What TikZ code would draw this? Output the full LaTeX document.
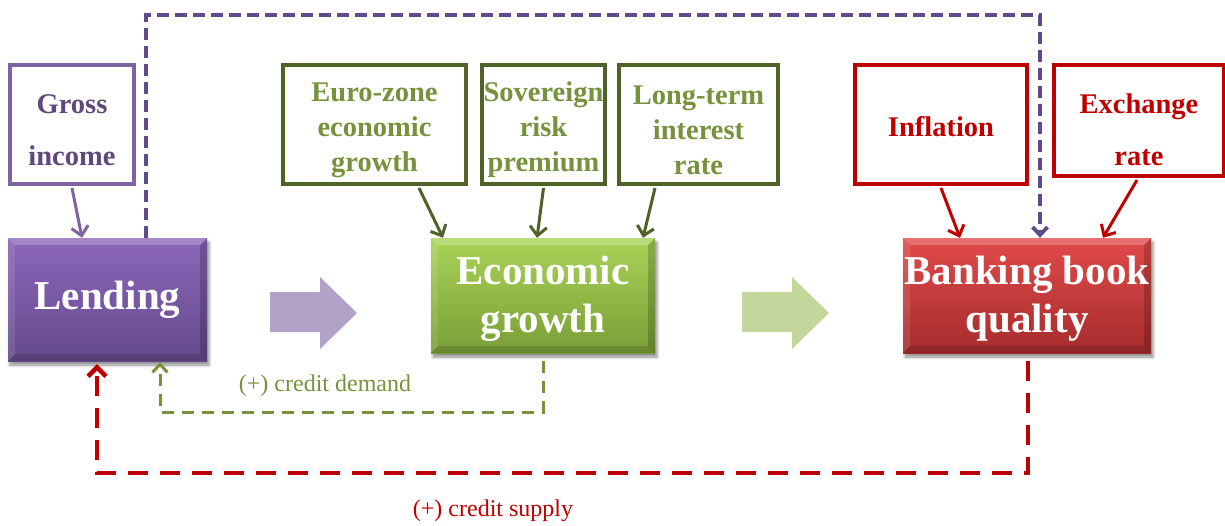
\documentclass[tikz,border=0pt]{standalone}
\usepackage{fontspec}
\setmainfont{Liberation Serif}
\usetikzlibrary{arrows.meta,shadows.blur,calc}

\definecolor{purpleline}{HTML}{8064A2}
\definecolor{purpletext}{HTML}{5F497A}
\definecolor{purpledash}{HTML}{5F4B8B}
\definecolor{purpletop}{HTML}{8C66BA}
\definecolor{purplebot}{HTML}{654A8C}
\definecolor{purplearrow}{HTML}{B3A2C7}
\definecolor{greenline}{HTML}{4F6228}
\definecolor{greentext}{HTML}{76923C}
\definecolor{greentop}{HTML}{A9D357}
\definecolor{greenbot}{HTML}{7A9E37}
\definecolor{greenarrow}{HTML}{C3D69B}
\definecolor{redline}{HTML}{C00000}
\definecolor{redtop}{HTML}{E24A4A}
\definecolor{redbot}{HTML}{A52C2C}

% invisible strut on a first line: pushes a text block down inside its box
\newcommand\toppad[1]{\rule{0pt}{#1}}

\tikzset{
  factor/.style={draw, line width=4pt, fill=white, inner sep=0pt, align=center,
    font=\bfseries\fontsize{28.5}{35}\selectfont},
  bevel/.style={path picture={
    \fill[white,opacity=.22] (path picture bounding box.north west) -- (path picture bounding box.north east)
      -- ([xshift=-7pt,yshift=-7pt]path picture bounding box.north east) -- ([xshift=7pt,yshift=-7pt]path picture bounding box.north west) -- cycle;
    \fill[white,opacity=.10] (path picture bounding box.north west) -- ([xshift=7pt,yshift=-7pt]path picture bounding box.north west)
      -- ([xshift=7pt,yshift=7pt]path picture bounding box.south west) -- (path picture bounding box.south west) -- cycle;
    \fill[black,opacity=.18] (path picture bounding box.north east) -- ([xshift=-7pt,yshift=-7pt]path picture bounding box.north east)
      -- ([xshift=-7pt,yshift=7pt]path picture bounding box.south east) -- (path picture bounding box.south east) -- cycle;
    \fill[black,opacity=.14] (path picture bounding box.south west) -- (path picture bounding box.south east)
      -- ([xshift=-7pt,yshift=7pt]path picture bounding box.south east) -- ([xshift=7pt,yshift=7pt]path picture bounding box.south west) -- cycle;
  }},
  mainbox/.style={inner sep=0pt, align=center, text=white, bevel,
    font=\bfseries\fontsize{41}{48}\selectfont,
    blur shadow={shadow xshift=2pt, shadow yshift=-4pt, shadow blur radius=3pt, shadow opacity=45}},
  influence/.style={line width=3pt, -{Straight Barb[length=9pt,width=17pt,line width=3pt]}},
  feedback/.style={dashed, -{Straight Barb[length=8pt,width=15pt]}},
  label/.style={font=\fontsize{24}{28}\selectfont}
}

\begin{document}
\begin{tikzpicture}[x=1pt,y=-1pt]
\useasboundingbox (0,0) rectangle (1225,525);

% main chain
\node[mainbox, top color=purpletop, bottom color=purplebot, minimum width=199pt, minimum height=123pt]
  (lending) at (107.5,299.5) {Lending};
\node[mainbox, top color=greentop, bottom color=greenbot, minimum width=224pt, minimum height=115pt]
  (eco) at (543,295.5) {\toppad{35.5pt}Economic\\growth};
\node[mainbox, top color=redtop, bottom color=redbot, minimum width=248pt, minimum height=115pt]
  (bank) at (1027,295.5) {\toppad{35.5pt}Banking book\\quality};

% factor boxes
\node[factor, draw=purpleline, text=purpletext, minimum width=124pt, minimum height=119pt,
  font=\bfseries\fontsize{28.5}{52}\selectfont] (gross) at (72,124.5) {\toppad{29.5pt}Gross\\income};
\node[factor, draw=greenline, text=greentext, minimum width=183pt, minimum height=119pt]
  (euro) at (374.5,124.5) {\toppad{29.5pt}Euro-zone\\economic\\growth};
\node[factor, draw=greenline, text=greentext, minimum width=123pt, minimum height=119pt]
  (sov) at (543.5,124.5) {\toppad{29.5pt}Sovereign\\risk\\premium};
\node[factor, draw=greenline, text=greentext, minimum width=159pt, minimum height=119pt]
  (long) at (698.5,124.5) {\toppad{29.5pt}Long-term\\interest\\rate};
\node[factor, draw=redline, text=redline, minimum width=172pt, minimum height=119pt]
  (infl) at (941,124.5) {\toppad{23.5pt}Inflation};
\node[factor, draw=redline, text=redline, minimum width=170pt, minimum height=111pt,
  font=\bfseries\fontsize{28.5}{52}\selectfont] (exch) at (1139,120.5) {\toppad{37.5pt}Exchange\\rate};

% block arrows between the main boxes
\fill[purplearrow] (270,292) -- (320,292) -- (320,277) -- (357,313) -- (320,349) -- (320,332) -- (270,332) -- cycle;
\fill[greenarrow] (742,292) -- (792,292) -- (792,277) -- (829,313) -- (792,349) -- (792,332) -- (742,332) -- cycle;

% direct influences
\draw[influence, purpleline] ([yshift=-2pt]gross.south) -- ([xshift=-25.5pt]lending.north);
\draw[influence, greenline] ([xshift=44.5pt,yshift=-2pt]euro.south) -- ([xshift=-100pt]eco.north);
\draw[influence, greenline] ([yshift=-2pt]sov.south) -- ([xshift=-6pt]eco.north);
\draw[influence, greenline] ([xshift=-43.5pt,yshift=-2pt]long.south) -- ([xshift=100pt]eco.north);
\draw[influence, redline] ([yshift=-2pt]infl.south) -- ([xshift=-67pt]bank.north);
\draw[influence, redline] ([xshift=-2pt,yshift=-2pt]exch.south) -- ([xshift=76pt]bank.north);

% feedback loops
\draw[feedback, purpledash, line width=3.8pt, dash pattern=on 12pt off 6pt]
  ([xshift=38.5pt]lending.north) -- ++(0,-223) -| ([xshift=13pt]bank.north);
\draw[feedback, greentext, line width=3pt, dash pattern=on 12pt off 8pt, shorten <=8pt]
  (eco.south) -- ++(0,59) -| ([xshift=52.5pt,yshift=-1pt]lending.south);
\draw[feedback, redline, line width=4.5pt, dash pattern=on 20pt off 12pt, shorten <=8pt,
  -{Straight Barb[length=9pt,width=18pt]}]
  ([xshift=1pt]bank.south) -- ++(0,120) -| ([xshift=-10.5pt,yshift=-3pt]lending.south);

% loop labels
\node[label, text=greentext] (demand) at (325,386) {(+) credit demand};
\node[label, text=redline] (supply) at (493,511) {(+) credit supply};
\end{tikzpicture}
\end{document}
